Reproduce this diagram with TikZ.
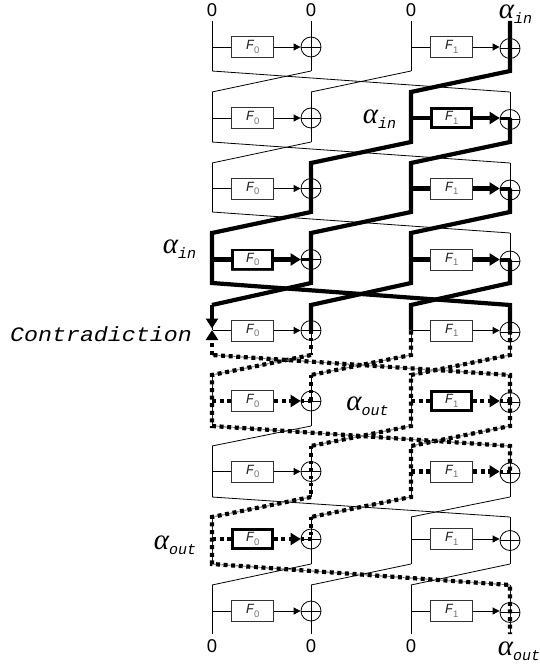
\documentclass[tikz,border=0pt]{standalone}
\usepackage{fontspec}
\setmainfont{Liberation Sans}
\newfontfamily\courfont{Liberation Mono}
\newfontfamily\greekfont{Liberation Serif}
\usepackage{tikz}
\usetikzlibrary{positioning,calc,arrows.meta}
\pgfdeclarelayer{nodelayer}
\pgfdeclarelayer{edgelayer}
\pgfsetlayers{main,edgelayer,nodelayer}
\tikzstyle{round_fn}=[draw=black!80, line width=0.8pt, fill=white, shape=rectangle, minimum width=42pt, minimum height=21pt, inner sep=0pt]
\tikzstyle{active_fn}=[round_fn, draw=black, line width=2.6pt, minimum width=40pt, minimum height=19pt]
\tikzstyle{xor_sum}=[draw=black, line width=0.8pt, shape=circle, minimum size=20pt, inner sep=0pt, path picture={\draw[line width=0.8pt] (path picture bounding box.west) -- (path picture bounding box.east);}]
\tikzstyle{thin_edge}=[-, draw=black, line width=0.8pt]
\tikzstyle{thin_arrow}=[thin_edge, -{Triangle[length=7pt,width=7pt]}]
\tikzstyle{solid_trail}=[-, draw=black, line width=4.2pt]
\tikzstyle{solid_arrow}=[solid_trail, -{Triangle[length=10pt,width=12pt]}]
\tikzstyle{dot_trail}=[-, draw=black, line width=4.2pt, dash pattern=on 4pt off 3.6pt, preaction={draw=white, solid, arrows=-}]
\tikzstyle{dot_small}=[-, draw=black, line width=3.4pt, dash pattern=on 3.4pt off 4pt]
\tikzstyle{dot_arrow}=[dot_trail, -{Triangle[length=10pt,width=12pt]}]
\tikzstyle{end_value}=[inner sep=0pt, font=\fontsize{18.5}{18.5}\selectfont]
\newcommand{\fnlabel}[1]{{\courfont\itshape\fontsize{14}{14}\selectfont\textcolor{black!85}{F}}\raisebox{-3.5pt}{\fontsize{9.5}{9.5}\selectfont\textcolor{black!55}{#1}}}
\newcommand{\alphaval}[1]{{\greekfont\itshape\fontsize{29}{29}\selectfont α}\raisebox{-5.5pt}{\courfont\itshape\fontsize{15}{15}\selectfont #1}}

\begin{document}
\begin{tikzpicture}[x=1pt,y=-1pt]
        \useasboundingbox (0,0) rectangle (539,668);
        % round number / top of the verticals / branch / bottom of the verticals
        \foreach \r/\t/\m/\b in {1/21/47/71,2/92/118/142,3/163/188.5/212,4/233/259.5/283,5/305/330.5/355,6/375/401/426,7/446/471.5/497,8/517/539/564,9/585/611/634}{
            \foreach \c/\x in {0/212,1/311,2/411,3/510}{
                \coordinate (t\c r\r) at (\x,\t);
                \coordinate (m\c r\r) at (\x,\m);
                \coordinate (b\c r\r) at (\x,\b);
            }
        }
        \begin{pgfonlayer}{nodelayer}
            \foreach \r in {1,...,9}{
                \node[style=round_fn] (F0r\r) at ($(m0r\r)!0.41!(m1r\r)$) {\fnlabel{0}};
                \node[style=round_fn] (F1r\r) at ($(m2r\r)!0.41!(m3r\r)$) {\fnlabel{1}};
                \node[style=xor_sum] (X1r\r) at (m1r\r) {};
                \node[style=xor_sum, yshift=-1.5pt] (X3r\r) at (m3r\r) {};
            }
            \node[style=active_fn] (A1r2) at (F1r2) {\fnlabel{1}};
            \node[style=active_fn] (A0r4) at (F0r4) {\fnlabel{0}};
            \node[style=active_fn] (A1r6) at (F1r6) {\fnlabel{1}};
            \node[style=active_fn] (A0r8) at (F0r8) {\fnlabel{0}};
            \node[style=end_value] (z0) at (212,10) {0};
            \node[style=end_value] (z1) at (311,10) {0};
            \node[style=end_value] (z2) at (411,10) {0};
            \node[style=end_value] (z3) at (212,646) {0};
            \node[style=end_value] (z4) at (311,646) {0};
            \node[style=end_value] (z5) at (411,646) {0};
            \node[inner sep=0pt] (ain1) at (515.5,14) {\alphaval{in}};
            \node[inner sep=0pt] (ain2) at (379.5,119) {\alphaval{in}};
            \node[inner sep=0pt] (ain3) at (179.5,249) {\alphaval{in}};
            \node[inner sep=0pt] (aout1) at (367.5,406) {\alphaval{out}};
            \node[inner sep=0pt] (aout2) at (175,545) {\alphaval{out}};
            \node[inner sep=0pt] (aout3) at (519,651) {\alphaval{out}};
            \node[inner sep=0pt, font=\courfont\itshape\fontsize{23.3}{23.3}\selectfont] (contra) at (101,334) {\scalebox{1}[0.88]{Contradiction}};
        \end{pgfonlayer}
        \begin{pgfonlayer}{edgelayer}
            \foreach \r in {1,...,9}{
                \foreach \c in {0,1,2,3}{
                    \draw[style={thin_edge}] (t\c r\r) to (b\c r\r);
                }
                \draw[style={thin_edge}] (m0r\r) to (F0r\r.west);
                \draw[style={thin_arrow}] (F0r\r.east) to (X1r\r.west |- m1r\r);
                \draw[style={thin_edge}] (m2r\r) to (F1r\r.west);
                \draw[style={thin_arrow}] (F1r\r.east) to (X3r\r.west |- m3r\r);
            }
            \foreach \r/\n in {1/2,2/3,3/4,4/5,5/6,6/7,7/8,8/9}{
                \draw[style={thin_edge}] (b0r\r) to (t3r\n);
                \draw[style={thin_edge}] (b1r\r) to (t0r\n);
                \draw[style={thin_edge}] (b2r\r) to (t1r\n);
                \draw[style={thin_edge}] (b3r\r) to (t2r\n);
            }
            % outgoing difference
            \draw[style={dot_trail}] (m3r5) -- (b3r5) -- (t2r6) -- (b2r6) -- (t1r7);
            \draw[style={dot_small}] (t1r7) -- (b1r7);
            \draw[style={dot_trail}] (b1r7) -- (t0r8) -- (b0r8) -- (t3r9) -- (b3r9);
            \draw[style={dot_trail}] (m2r5) -- (b2r5) -- (t1r6);
            \draw[style={dot_small}] (t1r6) -- (m1r6);
            \draw[style={dot_small}] (m1r5) -- (b1r5);
            \draw[style={dot_trail}] (b1r5) -- (t0r6) -- (b0r6) -- (t3r7) -- (m3r7);
            \draw[style={dot_trail}] (m3r6) -- (b3r6) -- (t2r7) -- (b2r7) -- (t1r8);
            \draw[style={dot_small}] (t1r8) -- (m1r8);
            \draw[style={dot_trail}] (m3r6) -- (t3r6) -- (b0r5);
            \draw[style={dot_arrow}] (b0r5) to (212,330);
            \foreach \c/\o/\f/\r in {0/1/F0r6/6,2/3/A1r6/6,2/3/F1r7/7,0/1/A0r8/8}{
                \draw[style={dot_trail}] (m\c r\r) to (\f.west);
                \draw[style={dot_arrow}] (\f.east) to (X\o r\r.west |- m\o r\r);
                \draw[style={dot_small}] (X\o r\r.west |- m\o r\r) to (m\o r\r);
            }
            % incoming difference
            \draw[style={solid_trail}] (t3r1) -- (b3r1) -- (t2r2) -- (b2r2) -- (t1r3) -- (b1r3) -- (t0r4) -- (b0r4) -- (t3r5) -- (m3r5);
            \draw[style={solid_trail}] (m3r2) -- (b3r2) -- (t2r3) -- (b2r3) -- (t1r4) -- (b1r4) -- (t0r5);
            \draw[style={solid_arrow}] (t0r5) to (212,328.5);
            \draw[style={solid_trail}] (m3r3) -- (b3r3) -- (t2r4) -- (b2r4) -- (t1r5) -- (m1r5);
            \draw[style={solid_trail}] (m3r4) -- (b3r4) -- (t2r5) -- (m2r5);
            \foreach \c/\o/\f/\r in {2/3/A1r2/2,2/3/F1r3/3,0/1/A0r4/4,2/3/F1r4/4}{
                \draw[style={solid_trail}] (m\c r\r) to (\f.west);
                \draw[style={solid_arrow}] (\f.east) to (X\o r\r.west |- m\o r\r);
                \draw[style={solid_trail}, line width=2.6pt] (X\o r\r.west |- m\o r\r) to (m\o r\r);
            }
        \end{pgfonlayer}
    \end{tikzpicture}
\end{document}
